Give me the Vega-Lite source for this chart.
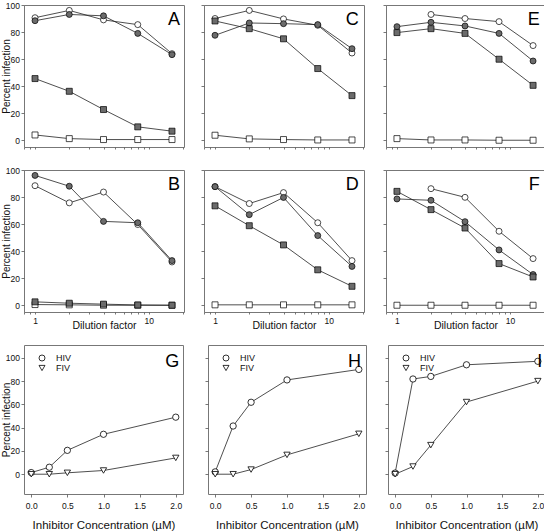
{
  "$schema": "https://vega.github.io/schema/vega-lite/v6.json",
  "padding": {"left": 0, "top": 0, "right": 0, "bottom": 0},
  "datasets": {
    "dil": [
      {"p":"A","s":"oc","x":1,"y":90.6},{"p":"A","s":"oc","x":2,"y":96},{"p":"A","s":"oc","x":4,"y":89},{"p":"A","s":"oc","x":8,"y":85.5},{"p":"A","s":"oc","x":16,"y":64},
      {"p":"A","s":"gc","x":1,"y":88.4},{"p":"A","s":"gc","x":2,"y":93},{"p":"A","s":"gc","x":4,"y":92},{"p":"A","s":"gc","x":8,"y":79},{"p":"A","s":"gc","x":16,"y":63.3},
      {"p":"A","s":"gs","x":1,"y":45.6},{"p":"A","s":"gs","x":2,"y":36.2},{"p":"A","s":"gs","x":4,"y":22.7},{"p":"A","s":"gs","x":8,"y":9.9},{"p":"A","s":"gs","x":16,"y":6.7},
      {"p":"A","s":"os","x":1,"y":3.9},{"p":"A","s":"os","x":2,"y":1.2},{"p":"A","s":"os","x":4,"y":0.5},{"p":"A","s":"os","x":8,"y":0.5},{"p":"A","s":"os","x":16,"y":0.5},
      {"p":"C","s":"oc","x":1,"y":90},{"p":"C","s":"oc","x":2,"y":96},{"p":"C","s":"oc","x":4,"y":89.7},{"p":"C","s":"oc","x":8,"y":85},{"p":"C","s":"oc","x":16,"y":64.5},
      {"p":"C","s":"gc","x":1,"y":77.6},{"p":"C","s":"gc","x":2,"y":86.7},{"p":"C","s":"gc","x":4,"y":86.2},{"p":"C","s":"gc","x":8,"y":85.5},{"p":"C","s":"gc","x":16,"y":67.7},
      {"p":"C","s":"gs","x":1,"y":88.2},{"p":"C","s":"gs","x":2,"y":82.5},{"p":"C","s":"gs","x":4,"y":75},{"p":"C","s":"gs","x":8,"y":53},{"p":"C","s":"gs","x":16,"y":33},
      {"p":"C","s":"os","x":1,"y":3.7},{"p":"C","s":"os","x":2,"y":1},{"p":"C","s":"os","x":4,"y":0.5},{"p":"C","s":"os","x":8,"y":0.2},{"p":"C","s":"os","x":16,"y":0.2},
      {"p":"E","s":"oc","x":2,"y":93},{"p":"E","s":"oc","x":4,"y":90},{"p":"E","s":"oc","x":8,"y":87.7},{"p":"E","s":"oc","x":16,"y":70},
      {"p":"E","s":"gc","x":1,"y":84},{"p":"E","s":"gc","x":2,"y":87.2},{"p":"E","s":"gc","x":4,"y":84.5},{"p":"E","s":"gc","x":8,"y":79},{"p":"E","s":"gc","x":16,"y":58.6},
      {"p":"E","s":"gs","x":1,"y":79.6},{"p":"E","s":"gs","x":2,"y":82.5},{"p":"E","s":"gs","x":4,"y":79},{"p":"E","s":"gs","x":8,"y":59.9},{"p":"E","s":"gs","x":16,"y":40.6},
      {"p":"E","s":"os","x":1,"y":1.2},{"p":"E","s":"os","x":2,"y":0.2},{"p":"E","s":"os","x":4,"y":0.2},{"p":"E","s":"os","x":8,"y":0},{"p":"E","s":"os","x":16,"y":0},
      {"p":"B","s":"oc","x":1,"y":88.4},{"p":"B","s":"oc","x":2,"y":75.7},{"p":"B","s":"oc","x":4,"y":83.7},{"p":"B","s":"oc","x":8,"y":59.7},{"p":"B","s":"oc","x":16,"y":32},
      {"p":"B","s":"gc","x":1,"y":96},{"p":"B","s":"gc","x":2,"y":88},{"p":"B","s":"gc","x":4,"y":62},{"p":"B","s":"gc","x":8,"y":61},{"p":"B","s":"gc","x":16,"y":33},
      {"p":"B","s":"os","x":1,"y":0.5},{"p":"B","s":"os","x":2,"y":0.3},{"p":"B","s":"os","x":4,"y":0},{"p":"B","s":"os","x":8,"y":0},{"p":"B","s":"os","x":16,"y":0},
      {"p":"B","s":"gs","x":1,"y":2.5},{"p":"B","s":"gs","x":2,"y":1.5},{"p":"B","s":"gs","x":4,"y":0.8},{"p":"B","s":"gs","x":8,"y":0.2},{"p":"B","s":"gs","x":16,"y":0},
      {"p":"D","s":"oc","x":1,"y":87.7},{"p":"D","s":"oc","x":2,"y":75.2},{"p":"D","s":"oc","x":4,"y":83.3},{"p":"D","s":"oc","x":8,"y":61},{"p":"D","s":"oc","x":16,"y":33},
      {"p":"D","s":"gc","x":1,"y":87.7},{"p":"D","s":"gc","x":2,"y":67},{"p":"D","s":"gc","x":4,"y":79.7},{"p":"D","s":"gc","x":8,"y":51.5},{"p":"D","s":"gc","x":16,"y":28.7},
      {"p":"D","s":"gs","x":1,"y":73.5},{"p":"D","s":"gs","x":2,"y":58.8},{"p":"D","s":"gs","x":4,"y":44.6},{"p":"D","s":"gs","x":8,"y":26.2},{"p":"D","s":"gs","x":16,"y":14},
      {"p":"D","s":"os","x":1,"y":0.3},{"p":"D","s":"os","x":2,"y":0.3},{"p":"D","s":"os","x":4,"y":0.3},{"p":"D","s":"os","x":8,"y":0.3},{"p":"D","s":"os","x":16,"y":0.3},
      {"p":"F","s":"oc","x":2,"y":86.2},{"p":"F","s":"oc","x":4,"y":79.8},{"p":"F","s":"oc","x":8,"y":54.7},{"p":"F","s":"oc","x":16,"y":34.5},
      {"p":"F","s":"gc","x":1,"y":78.6},{"p":"F","s":"gc","x":2,"y":77.6},{"p":"F","s":"gc","x":4,"y":61.8},{"p":"F","s":"gc","x":8,"y":40.9},{"p":"F","s":"gc","x":16,"y":22.7},
      {"p":"F","s":"gs","x":1,"y":84.2},{"p":"F","s":"gs","x":2,"y":70.7},{"p":"F","s":"gs","x":4,"y":57.1},{"p":"F","s":"gs","x":8,"y":30.8},{"p":"F","s":"gs","x":16,"y":20.9},
      {"p":"F","s":"os","x":1,"y":0},{"p":"F","s":"os","x":2,"y":0},{"p":"F","s":"os","x":4,"y":0},{"p":"F","s":"os","x":8,"y":0},{"p":"F","s":"os","x":16,"y":0}
    ],
    "inh": [
      {"p":"G","v":"HIV","c":0,"y":1.4},{"p":"G","v":"HIV","c":0.25,"y":6},{"p":"G","v":"HIV","c":0.5,"y":20.5},{"p":"G","v":"HIV","c":1,"y":34.3},{"p":"G","v":"HIV","c":2,"y":49},
      {"p":"G","v":"FIV","c":0,"y":0},{"p":"G","v":"FIV","c":0.25,"y":0},{"p":"G","v":"FIV","c":0.5,"y":1.2},{"p":"G","v":"FIV","c":1,"y":3.2},{"p":"G","v":"FIV","c":2,"y":14},
      {"p":"H","v":"HIV","c":0,"y":2},{"p":"H","v":"HIV","c":0.25,"y":41.4},{"p":"H","v":"HIV","c":0.5,"y":61.8},{"p":"H","v":"HIV","c":1,"y":81},{"p":"H","v":"HIV","c":2,"y":90},
      {"p":"H","v":"FIV","c":0,"y":0},{"p":"H","v":"FIV","c":0.25,"y":0},{"p":"H","v":"FIV","c":0.5,"y":4},{"p":"H","v":"FIV","c":1,"y":16.6},{"p":"H","v":"FIV","c":2,"y":34.7},
      {"p":"I","v":"HIV","c":0,"y":1},{"p":"I","v":"HIV","c":0.25,"y":81.8},{"p":"I","v":"HIV","c":0.5,"y":84},{"p":"I","v":"HIV","c":1,"y":94},{"p":"I","v":"HIV","c":2,"y":97},
      {"p":"I","v":"FIV","c":0,"y":0},{"p":"I","v":"FIV","c":0.25,"y":6.6},{"p":"I","v":"FIV","c":0.5,"y":25},{"p":"I","v":"FIV","c":1,"y":62},{"p":"I","v":"FIV","c":2,"y":80}
    ]
  },
  "resolve": {"scale": {"shape": "independent", "fill": "independent"}, "legend": {"shape": "independent", "fill": "independent"}},
  "spacing": 12,
  "vconcat": [
    {
      "spacing": 15,
      "vconcat": [
        {
          "spacing": 15,
          "hconcat": [
            {"width":160,"height":142,"data":{"name":"dil"},"transform":[{"filter":"datum.p==='A'"}],
             "encoding":{"x":{"field":"x","type":"quantitative","scale":{"type":"log","domain":[0.8,20.4],"nice":false},"axis":{"values":[0.8,0.9,1,2,3,4,5,6,7,8,9,10,20],"labels":false,"title":null,"tickSize":2}},
                         "y":{"field":"y","type":"quantitative","scale":{"domain":[-5,100],"nice":false,"zero":false},"axis":{"values":[0,20,40,60,80,100],"title":"Percent infection"}}},
             "layer":[
               {"mark":{"type":"line","color":"#222","strokeWidth":0.8},"encoding":{"detail":{"field":"s"}}},
               {"mark":{"type":"point","filled":true,"opacity":1,"stroke":"black","strokeWidth":0.7,"size":36},"encoding":{"shape":{"field":"s","type":"nominal","scale":{"domain":["oc","gc","gs","os"],"range":["circle","circle","square","square"]},"legend":null},"fill":{"field":"s","type":"nominal","scale":{"domain":["oc","gc","gs","os"],"range":["white","#6b6b6b","#6b6b6b","white"]},"legend":null}}},
               {"transform":[{"filter":"datum.s==='gc' && datum.x==16"}],"mark":{"type":"text","fontSize":18,"align":"right","baseline":"alphabetic","color":"black"},"encoding":{"text":{"field":"p"},"x":{"datum":18.8},"y":{"datum":85}}}
             ]},
            {
              "spacing": 17,
              "hconcat": [
                {"width":160,"height":142,"data":{"name":"dil"},"transform":[{"filter":"datum.p==='C'"}],
                 "encoding":{"x":{"field":"x","type":"quantitative","scale":{"type":"log","domain":[0.8,20.4],"nice":false},"axis":{"values":[0.8,0.9,1,2,3,4,5,6,7,8,9,10,20],"labels":false,"title":null,"tickSize":2}},
                             "y":{"field":"y","type":"quantitative","scale":{"domain":[-5,100],"nice":false,"zero":false},"axis":{"values":[0,20,40,60,80,100],"labels":false,"title":null}}},
                 "layer":[
                   {"mark":{"type":"line","color":"#222","strokeWidth":0.8},"encoding":{"detail":{"field":"s"}}},
                   {"mark":{"type":"point","filled":true,"opacity":1,"stroke":"black","strokeWidth":0.7,"size":36},"encoding":{"shape":{"field":"s","type":"nominal","scale":{"domain":["oc","gc","gs","os"],"range":["circle","circle","square","square"]},"legend":null},"fill":{"field":"s","type":"nominal","scale":{"domain":["oc","gc","gs","os"],"range":["white","#6b6b6b","#6b6b6b","white"]},"legend":null}}},
                   {"transform":[{"filter":"datum.s==='gc' && datum.x==16"}],"mark":{"type":"text","fontSize":18,"align":"right","baseline":"alphabetic","color":"black"},"encoding":{"text":{"field":"p"},"x":{"datum":18.3},"y":{"datum":85}}}
                 ]},
                {"width":159,"height":142,"data":{"name":"dil"},"transform":[{"filter":"datum.p==='E'"}],
                 "encoding":{"x":{"field":"x","type":"quantitative","scale":{"type":"log","domain":[0.8,20.4],"nice":false},"axis":{"values":[0.8,0.9,1,2,3,4,5,6,7,8,9,10,20],"labels":false,"title":null,"tickSize":2}},
                             "y":{"field":"y","type":"quantitative","scale":{"domain":[-5,100],"nice":false,"zero":false},"axis":{"values":[0,20,40,60,80,100],"labels":false,"title":null}}},
                 "layer":[
                   {"mark":{"type":"line","color":"#222","strokeWidth":0.8},"encoding":{"detail":{"field":"s"}}},
                   {"mark":{"type":"point","filled":true,"opacity":1,"stroke":"black","strokeWidth":0.7,"size":36},"encoding":{"shape":{"field":"s","type":"nominal","scale":{"domain":["oc","gc","gs","os"],"range":["circle","circle","square","square"]},"legend":null},"fill":{"field":"s","type":"nominal","scale":{"domain":["oc","gc","gs","os"],"range":["white","#6b6b6b","#6b6b6b","white"]},"legend":null}}},
                   {"transform":[{"filter":"datum.s==='gc' && datum.x==16"}],"mark":{"type":"text","fontSize":18,"align":"right","baseline":"alphabetic","color":"black"},"encoding":{"text":{"field":"p"},"x":{"datum":18.3},"y":{"datum":85}}}
                 ]}
              ]
            }
          ]
        },
        {
          "spacing": 15,
          "hconcat": [
            {"width":160,"height":142,"data":{"name":"dil"},"transform":[{"filter":"datum.p==='B'"}],
             "encoding":{"x":{"field":"x","type":"quantitative","scale":{"type":"log","domain":[0.8,20.4],"nice":false},"axis":{"values":[0.8,0.9,1,2,3,4,5,6,7,8,9,10,20],"labelExpr":"datum.value == 1 || datum.value == 10 ? datum.label : ''","labelOverlap":false,"title":"Dilution factor","titleFontSize":10.5,"titlePadding":-4,"tickSize":2}},
                         "y":{"field":"y","type":"quantitative","scale":{"domain":[-5,100],"nice":false,"zero":false},"axis":{"values":[0,20,40,60,80,100],"title":"Percent infection"}}},
             "layer":[
               {"mark":{"type":"line","color":"#222","strokeWidth":0.8},"encoding":{"detail":{"field":"s"}}},
               {"mark":{"type":"point","filled":true,"opacity":1,"stroke":"black","strokeWidth":0.7,"size":36},"encoding":{"shape":{"field":"s","type":"nominal","scale":{"domain":["oc","gc","gs","os"],"range":["circle","circle","square","square"]},"legend":null},"fill":{"field":"s","type":"nominal","scale":{"domain":["oc","gc","gs","os"],"range":["white","#6b6b6b","#6b6b6b","white"]},"legend":null}}},
               {"transform":[{"filter":"datum.s==='gc' && datum.x==16"}],"mark":{"type":"text","fontSize":18,"align":"right","baseline":"alphabetic","color":"black"},"encoding":{"text":{"field":"p"},"x":{"datum":18.8},"y":{"datum":85}}}
             ]},
            {
              "spacing": 17,
              "hconcat": [
                {"width":160,"height":142,"data":{"name":"dil"},"transform":[{"filter":"datum.p==='D'"}],
                 "encoding":{"x":{"field":"x","type":"quantitative","scale":{"type":"log","domain":[0.8,20.4],"nice":false},"axis":{"values":[0.8,0.9,1,2,3,4,5,6,7,8,9,10,20],"labelExpr":"datum.value == 1 || datum.value == 10 ? datum.label : ''","labelOverlap":false,"title":"Dilution factor","titleFontSize":10.5,"titlePadding":-4,"tickSize":2}},
                             "y":{"field":"y","type":"quantitative","scale":{"domain":[-5,100],"nice":false,"zero":false},"axis":{"values":[0,20,40,60,80,100],"labels":false,"title":null}}},
                 "layer":[
                   {"mark":{"type":"line","color":"#222","strokeWidth":0.8},"encoding":{"detail":{"field":"s"}}},
                   {"mark":{"type":"point","filled":true,"opacity":1,"stroke":"black","strokeWidth":0.7,"size":36},"encoding":{"shape":{"field":"s","type":"nominal","scale":{"domain":["oc","gc","gs","os"],"range":["circle","circle","square","square"]},"legend":null},"fill":{"field":"s","type":"nominal","scale":{"domain":["oc","gc","gs","os"],"range":["white","#6b6b6b","#6b6b6b","white"]},"legend":null}}},
                   {"transform":[{"filter":"datum.s==='gc' && datum.x==16"}],"mark":{"type":"text","fontSize":18,"align":"right","baseline":"alphabetic","color":"black"},"encoding":{"text":{"field":"p"},"x":{"datum":18.3},"y":{"datum":85}}}
                 ]},
                {"width":159,"height":142,"data":{"name":"dil"},"transform":[{"filter":"datum.p==='F'"}],
                 "encoding":{"x":{"field":"x","type":"quantitative","scale":{"type":"log","domain":[0.8,20.4],"nice":false},"axis":{"values":[0.8,0.9,1,2,3,4,5,6,7,8,9,10,20],"labelExpr":"datum.value == 1 || datum.value == 10 ? datum.label : ''","labelOverlap":false,"title":"Dilution factor","titleFontSize":10.5,"titlePadding":-4,"tickSize":2}},
                             "y":{"field":"y","type":"quantitative","scale":{"domain":[-5,100],"nice":false,"zero":false},"axis":{"values":[0,20,40,60,80,100],"labels":false,"title":null}}},
                 "layer":[
                   {"mark":{"type":"line","color":"#222","strokeWidth":0.8},"encoding":{"detail":{"field":"s"}}},
                   {"mark":{"type":"point","filled":true,"opacity":1,"stroke":"black","strokeWidth":0.7,"size":36},"encoding":{"shape":{"field":"s","type":"nominal","scale":{"domain":["oc","gc","gs","os"],"range":["circle","circle","square","square"]},"legend":null},"fill":{"field":"s","type":"nominal","scale":{"domain":["oc","gc","gs","os"],"range":["white","#6b6b6b","#6b6b6b","white"]},"legend":null}}},
                   {"transform":[{"filter":"datum.s==='gc' && datum.x==16"}],"mark":{"type":"text","fontSize":18,"align":"right","baseline":"alphabetic","color":"black"},"encoding":{"text":{"field":"p"},"x":{"datum":18.3},"y":{"datum":85}}}
                 ]}
              ]
            }
          ]
        }
      ]
    },
    {
      "resolve": {"scale": {"shape": "independent"}, "legend": {"shape": "independent"}},
      "spacing": 20,
      "hconcat": [
        {"width":159,"height":149,"data":{"name":"inh"},"transform":[{"filter":"datum.p==='G'"}],
         "encoding":{"x":{"field":"c","type":"quantitative","scale":{"domain":[-0.1,2.1],"nice":false,"zero":false},"axis":{"values":[0,0.5,1,1.5,2],"format":".1f","labelPadding":4,"title":"Inhibitor Concentration (µM)","titleFontSize":11.5,"titlePadding":10}},
                     "y":{"field":"y","type":"quantitative","scale":{"domain":[-17,111],"nice":false,"zero":false},"axis":{"values":[0,20,40,60,80,100],"title":"Percent infection"}}},
         "layer":[
           {"mark":{"type":"line","color":"#222","strokeWidth":0.8},"encoding":{"detail":{"field":"v"}}},
           {"mark":{"type":"point","filled":true,"opacity":1,"fill":"white","stroke":"black","strokeWidth":0.8,"size":40},
            "encoding":{"shape":{"field":"v","type":"nominal","scale":{"domain":["HIV","FIV"],"range":["circle","triangle-down"]},
              "legend":{"title":null,"orient":"none","legendX":13.5,"legendY":8.5,"padding":0,"symbolSize":36,"symbolStrokeWidth":0.8,"rowPadding":0,"labelOffset":9.5,"labelFontSize":9,"labelColor":"#111"}}}},
           {"transform":[{"filter":"datum.v==='HIV' && datum.c==2"}],"mark":{"type":"text","fontSize":18,"align":"right","baseline":"alphabetic","color":"black"},"encoding":{"text":{"field":"p"},"x":{"datum":2.05},"y":{"datum":92.5}}}
         ]},
        {
          "resolve": {"scale": {"shape": "independent"}, "legend": {"shape": "independent"}},
          "spacing": 17,
          "hconcat": [
            {"width":158,"height":149,"data":{"name":"inh"},"transform":[{"filter":"datum.p==='H'"}],
             "encoding":{"x":{"field":"c","type":"quantitative","scale":{"domain":[-0.1,2.1],"nice":false,"zero":false},"axis":{"values":[0,0.5,1,1.5,2],"format":".1f","labelPadding":4,"title":"Inhibitor Concentration (µM)","titleFontSize":11.5,"titlePadding":10}},
                         "y":{"field":"y","type":"quantitative","scale":{"domain":[-17,111],"nice":false,"zero":false},"axis":{"values":[0,20,40,60,80,100],"labels":false,"title":null}}},
             "layer":[
               {"mark":{"type":"line","color":"#222","strokeWidth":0.8},"encoding":{"detail":{"field":"v"}}},
               {"mark":{"type":"point","filled":true,"opacity":1,"fill":"white","stroke":"black","strokeWidth":0.8,"size":40},
                "encoding":{"shape":{"field":"v","type":"nominal","scale":{"domain":["HIV","FIV"],"range":["circle","triangle-down"]},
                  "legend":{"title":null,"orient":"none","legendX":13.5,"legendY":8.5,"padding":0,"symbolSize":36,"symbolStrokeWidth":0.8,"rowPadding":0,"labelOffset":9.5,"labelFontSize":9,"labelColor":"#111"}}}},
               {"transform":[{"filter":"datum.v==='HIV' && datum.c==2"}],"mark":{"type":"text","fontSize":18,"align":"right","baseline":"alphabetic","color":"black"},"encoding":{"text":{"field":"p"},"x":{"datum":2.03},"y":{"datum":92.5}}}
             ]},
            {"width":157,"height":149,"data":{"name":"inh"},"transform":[{"filter":"datum.p==='I'"}],
             "encoding":{"x":{"field":"c","type":"quantitative","scale":{"domain":[-0.1,2.1],"nice":false,"zero":false},"axis":{"values":[0,0.5,1,1.5,2],"format":".1f","labelPadding":4,"title":"Inhibitor Concentration (µM)","titleFontSize":11.5,"titlePadding":10}},
                         "y":{"field":"y","type":"quantitative","scale":{"domain":[-17,111],"nice":false,"zero":false},"axis":{"values":[0,20,40,60,80,100],"labels":false,"title":null}}},
             "layer":[
               {"mark":{"type":"line","color":"#222","strokeWidth":0.8},"encoding":{"detail":{"field":"v"}}},
               {"mark":{"type":"point","filled":true,"opacity":1,"fill":"white","stroke":"black","strokeWidth":0.8,"size":40},
                "encoding":{"shape":{"field":"v","type":"nominal","scale":{"domain":["HIV","FIV"],"range":["circle","triangle-down"]},
                  "legend":{"title":null,"orient":"none","legendX":13.5,"legendY":8.5,"padding":0,"symbolSize":36,"symbolStrokeWidth":0.8,"rowPadding":0,"labelOffset":9.5,"labelFontSize":9,"labelColor":"#111"}}}},
               {"transform":[{"filter":"datum.v==='HIV' && datum.c==2"}],"mark":{"type":"text","fontSize":18,"align":"right","baseline":"alphabetic","color":"black"},"encoding":{"text":{"field":"p"},"x":{"datum":2.06},"y":{"datum":92.5}}}
             ]}
          ]
        }
      ]
    }
  ],
  "config": {
    "font": "Liberation Sans",
    "view": {"stroke": "#777", "strokeWidth": 1},
    "axis": {"domain": false, "grid": false, "tickColor": "#555", "tickSize": 3, "tickWidth": 0.8, "labelFontSize": 8.5, "labelColor": "#111", "labelPadding": 2, "titleFontSize": 10, "titleFontWeight": "normal", "titleColor": "#111", "titlePadding": 3},
    "axisY": {"titlePadding": -6, "labelPadding": 1.5},
    "legend": {"labelFont": "Liberation Sans"}
  }
}
